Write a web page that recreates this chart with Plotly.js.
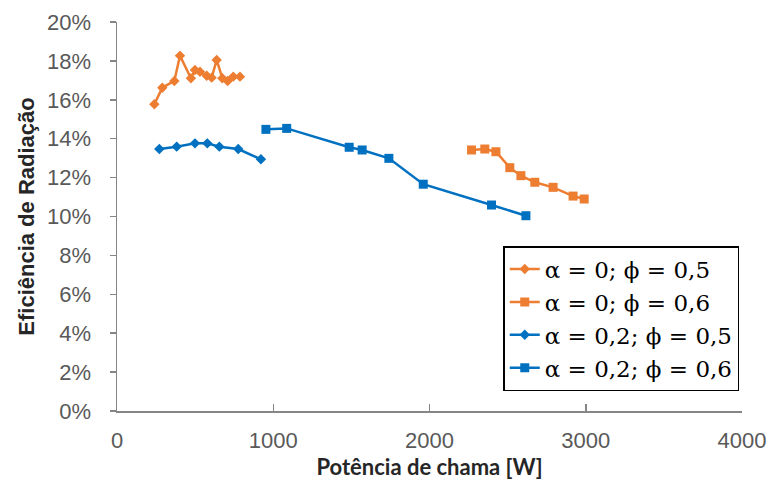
<!DOCTYPE html>
<html>
<head>
<meta charset="utf-8">
<script src="https://cdn.plot.ly/plotly-3.0.1.min.js"></script>
<style>html,body{margin:0;padding:0;background:#fff;}#chart{width:769px;height:490px;}</style>
</head>
<body>
<div id="chart"></div>
<script>
// α = 0; ϕ = 0,5
const a0p5_x = [239, 290, 367, 403, 473, 499, 531, 574, 606, 638, 674, 708, 744, 787];
const a0p5_y = [15.77, 16.62, 16.97, 18.27, 17.11, 17.53, 17.44, 17.24, 17.14, 18.05, 17.11, 16.97, 17.19, 17.19];
// α = 0; ϕ = 0,6
const a0p6_x = [2269, 2354, 2425, 2514, 2585, 2674, 2791, 2919, 2990];
const a0p6_y = [13.42, 13.47, 13.33, 12.51, 12.10, 11.76, 11.50, 11.05, 10.90];
// α = 0,2; ϕ = 0,5
const a2p5_x = [271, 382, 499, 578, 655, 776, 921];
const a2p5_y = [13.47, 13.59, 13.76, 13.76, 13.59, 13.47, 12.94];
// α = 0,2; ϕ = 0,6
const a2p6_x = [953, 1086, 1486, 1569, 1740, 1960, 2397, 2617];
const a2p6_y = [14.48, 14.53, 13.56, 13.42, 12.99, 11.66, 10.59, 10.04];

const names = ['α = 0; ϕ = 0,5', 'α = 0; ϕ = 0,6', 'α = 0,2; ϕ = 0,5', 'α = 0,2; ϕ = 0,6'];
const xTickVals = [0, 1000, 2000, 3000, 4000];
const yTickVals = [0, 2, 4, 6, 8, 10, 12, 14, 16, 18, 20];

const orange = '#ED7D31', blue = '#0070C0';
function tr(x, y, name, color, sym, size) {
  return {x: x, y: y, name: name, type: 'scatter', mode: 'lines+markers',
    line: {color: color, width: 2.5},
    marker: {symbol: sym, size: size, color: color}};
}
const data = [
  tr(a0p5_x, a0p5_y, names[0], orange, 'diamond', 8),
  tr(a0p6_x, a0p6_y, names[1], orange, 'square', 9),
  tr(a2p5_x, a2p5_y, names[2], blue, 'diamond', 8),
  tr(a2p6_x, a2p6_y, names[3], blue, 'square', 9)
];
const tickFont = {family: 'Liberation Sans, Arial, sans-serif', size: 22, color: '#595959'};
const layout = {
  width: 769, height: 490,
  margin: {l: 117, r: 27, t: 22, b: 79},
  paper_bgcolor: '#fff', plot_bgcolor: '#fff',
  showlegend: true,
  xaxis: {range: [0, 4000], tickvals: xTickVals, ticktext: xTickVals.map(String),
    showgrid: false, zeroline: false, showline: true, linecolor: '#868686', linewidth: 1.5,
    ticks: 'inside', ticklen: 7, tickcolor: '#868686', tickwidth: 1.5,
    ticklabelstandoff: 9,
    tickfont: tickFont,
    title: {text: 'Potência de chama [W]', font: {family: 'Lato, Open Sans, sans-serif', size: 22, color: '#262626', weight: 'bold'}, standoff: 6}},
  yaxis: {range: [0, 20], tickvals: yTickVals, ticktext: yTickVals.map(v => v + '%'),
    showgrid: false, zeroline: false, showline: true, linecolor: '#868686', linewidth: 1.5,
    ticks: 'outside', ticklen: 6, tickcolor: '#868686', tickwidth: 1.5,
    ticklabelstandoff: 14,
    tickfont: tickFont,
    title: {text: 'Eficiência de Radiação', font: {family: 'Liberation Sans, Arial, sans-serif', size: 22, color: '#262626', weight: 'bold'}, standoff: 6}},
  legend: {x: 0.618, y: 0.424, xanchor: 'left', yanchor: 'top',
    bgcolor: '#fff', bordercolor: '#000', borderwidth: 1.5,
    font: {family: 'DejaVu Serif, Liberation Serif, serif', size: 23, color: '#000'},
    tracegroupgap: 0, itemwidth: 30}
};
Plotly.newPlot('chart', data, layout, {displayModeBar: false, staticPlot: true});
</script>
</body>
</html>
